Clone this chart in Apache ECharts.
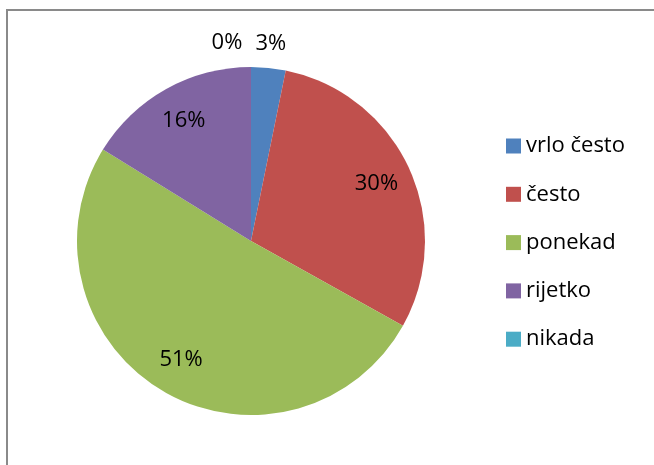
<!DOCTYPE html>
<html>
<head>
<meta charset="utf-8">
<script src="https://cdn.jsdelivr.net/npm/echarts@6/dist/echarts.min.js"></script>
<style>
  html, body { margin: 0; padding: 0; background: #fff; }
  #chart { width: 654px; height: 465px; }
</style>
</head>
<body>
<div id="chart"></div>
<script>
// data (percent of answers)
var categories = ['vrlo često', 'često', 'ponekad', 'rijetko', 'nikada'];
var values = [3.2, 29.9, 50.7, 16.2, 0];
var colors = ['#4F81BD', '#C0504D', '#9BBB59', '#8064A2', '#4BACC6'];
// small slices get their label above the pie, the rest inside
var topLabelled = ['vrlo često', 'nikada'];

var font = '"Open Sans", sans-serif';
var center = [251, 241];

var pieData = categories.map(function (name, i) {
  return { name: name, value: values[i], itemStyle: { color: colors[i] } };
});

function labelData(showTop) {
  return categories.map(function (name, i) {
    var isTop = topLabelled.indexOf(name) >= 0;
    var item = {
      name: name,
      value: values[i],
      itemStyle: { color: 'rgba(0,0,0,0)' },
      label: { show: isTop === showTop }
    };
    // nikada sits on the same spot as vrlo često, push it left
    if (name === 'nikada') item.label.offset = [-24, 0];
    return item;
  });
}

var labelStyle = {
  position: 'inside',
  formatter: '{d}%',
  color: '#000',
  fontSize: 22,
  fontFamily: font
};

var chart = echarts.init(document.getElementById('chart'));
chart.setOption({
  animation: false,
  graphic: [{
    type: 'rect',
    z: -1,
    shape: { x: 7, y: 10, width: 700, height: 500 },
    style: { fill: 'none', stroke: '#8a8a8a', lineWidth: 2 }
  }],
  legend: {
    data: categories,
    orient: 'vertical',
    left: 506,
    top: 135,
    padding: 0,
    icon: 'rect',
    itemWidth: 15,
    itemHeight: 15,
    itemGap: 26.3,
    itemTextGap: 7,
    textStyle: { fontSize: 22, fontFamily: font, color: '#000' }
  },
  series: [
    {
      type: 'pie',
      center: center,
      radius: 174,
      startAngle: 90,
      percentPrecision: 0,
      label: { show: false },
      labelLine: { show: false },
      itemStyle: { borderWidth: 0 },
      emphasis: { disabled: true },
      data: pieData
    },
    {
      // invisible ring only used to place the inner labels
      type: 'pie',
      silent: true,
      center: center,
      radius: 270,
      startAngle: 90,
      percentPrecision: 0,
      label: labelStyle,
      labelLine: { show: false },
      emphasis: { disabled: true },
      data: labelData(false)
    },
    {
      // invisible ring for the labels above the pie
      type: 'pie',
      silent: true,
      center: center,
      radius: 390,
      startAngle: 90,
      percentPrecision: 0,
      label: labelStyle,
      labelLine: { show: false },
      emphasis: { disabled: true },
      data: labelData(true)
    }
  ]
});
</script>
</body>
</html>
